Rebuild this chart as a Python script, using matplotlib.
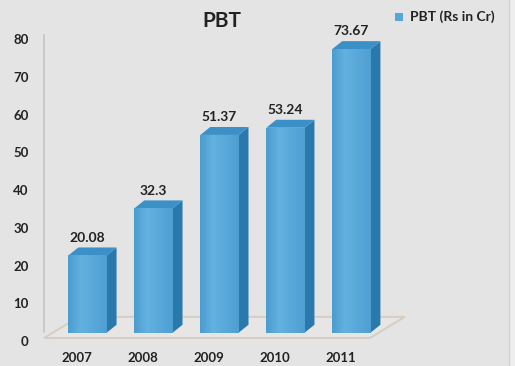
import numpy as np
import matplotlib.pyplot as plt
from matplotlib.colors import LinearSegmentedColormap
from matplotlib.patches import Polygon, Rectangle

years = ["2007", "2008", "2009", "2010", "2011"]
pbt = [20.08, 32.3, 51.37, 53.24, 73.67]
y_ticks = [0, 10, 20, 30, 40, 50, 60, 70, 80]

BG = "#e4e4e4"
FRONT = "#56a6d7"
SIDE = "#2a79ac"
TOP = "#3b90c7"
TEXT = "#222222"

front_cmap = LinearSegmentedColormap.from_list(
    "front", ["#4b9dd0", "#63b1df", "#5aa8d9", "#4f9fd2"])
grad = np.linspace(0, 1, 64).reshape(1, -1)

fig = plt.figure(figsize=(5.15, 3.66), dpi=100, facecolor=BG)
ax = fig.add_axes([44 / 515, 25 / 366, 376 / 515, 0.825])
ax.set_facecolor(BG)
ax.set_xlim(-0.66, 5.04)
ax.set_ylim(0, 80)

# box geometry in data units
width = 0.58
dx, dy = 0.15, 2.1
base = 2.2
scale = 1.02

# floor of the 3d box
floor = Polygon([(-0.66, 0.8), (4.28, 0.8), (4.81, 6.4), (-0.13, 6.4)],
                closed=True, facecolor="#e8e6e4", edgecolor="#d6cdc4",
                lw=1.4, zorder=1, clip_on=False)
ax.add_patch(floor)

for i, (yr, v) in enumerate(zip(years, pbt)):
    x0 = i - width / 2
    x1 = i + width / 2
    top = base + v * scale
    # side face
    ax.add_patch(Polygon([(x1, base), (x1 + dx, base + dy), (x1 + dx, top + dy), (x1, top)],
                         closed=True, facecolor=SIDE, edgecolor="none", zorder=3, clip_on=False))
    # top face
    ax.add_patch(Polygon([(x0, top), (x1, top), (x1 + dx, top + dy), (x0 + dx, top + dy)],
                         closed=True, facecolor=TOP, edgecolor="none", zorder=3, clip_on=False))
    # front face with a soft horizontal shading
    face = Rectangle((x0, base), width, top - base, facecolor=FRONT,
                     edgecolor="none", zorder=4, clip_on=False)
    ax.add_patch(face)
    im = ax.imshow(grad, cmap=front_cmap, extent=[x0, x1, base, top],
                   aspect="auto", zorder=4.5, interpolation="bicubic")
    im.set_clip_path(face)
    ax.text(i, top + dy + 1.0, f"{v:g}", ha="center", va="bottom",
            fontsize=10, fontweight="bold", color=TEXT, family="Lato", zorder=6)

ax.set_xlim(-0.66, 5.04)
ax.set_ylim(0, 80)

ax.set_yticks(y_ticks)
ax.set_yticklabels([str(t) for t in y_ticks], fontsize=9.5, fontweight="bold",
                   color=TEXT, family="Lato")
ax.set_xticks([i - 0.16 for i in range(len(years))])
ax.set_xticklabels(years, fontsize=9.5, fontweight="bold", color=TEXT, family="Lato")
ax.tick_params(axis="y", length=0, pad=11)
ax.tick_params(axis="x", length=0, pad=8)

for s in ["top", "right", "bottom"]:
    ax.spines[s].set_visible(False)
ax.spines["left"].set_color("#c4c4c4")
ax.spines["left"].set_linewidth(1.2)
ax.spines["left"].set_bounds(2.5, 81)

fig.text(222 / 515, 1 - 21 / 366, "PBT", ha="center", va="center",
         fontsize=15, fontweight="bold", color=TEXT, family="Lato")

# legend
fig.patches.append(Rectangle((395 / 515, 1 - 21 / 366), 8 / 515, 8 / 366,
                             transform=fig.transFigure, facecolor=FRONT,
                             edgecolor="none"))
fig.text(410 / 515, 1 - 17 / 366, "PBT (Rs in Cr)", ha="left", va="center",
         fontsize=10, fontweight="bold", color=TEXT, family="Lato")

# lighter strip on the right border
fig.patches.append(Rectangle((509 / 515, 0), 6 / 515, 1, transform=fig.transFigure,
                             facecolor="#eeeeee", edgecolor="none"))
fig.lines.append(plt.Line2D([509 / 515, 509 / 515], [0, 1], transform=fig.transFigure,
                            color="#d2d2d2", lw=1))

fig.savefig("out.png", dpi=100, facecolor=BG)
